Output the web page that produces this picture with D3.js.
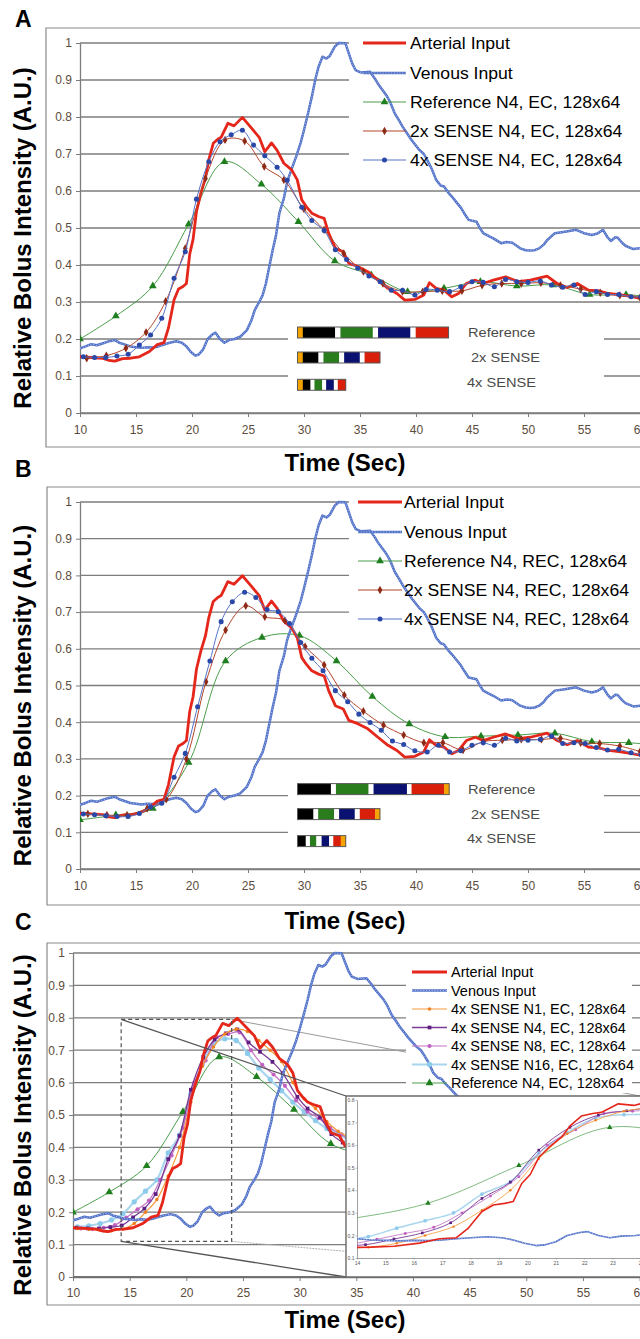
<!DOCTYPE html>
<html><head><meta charset="utf-8">
<script src="https://cdn.jsdelivr.net/npm/d3@7"></script>
<style>body{margin:0;background:#fff}svg{display:block}</style>
</head><body>
<svg id="c" width="640" height="1339"></svg>
<script>
// ---------------- DATA ----------------
const xTickVals = [10,15,20,25,30,35,40,45,50,55,60];
const xTickLabels = ['10','15','20','25','30','35','40','45','50','55','60'];
const yTickVals = [0,0.1,0.2,0.3,0.4,0.5,0.6,0.7,0.8,0.9,1];
const yTickLabels = ['0','0.1','0.2','0.3','0.4','0.5','0.6','0.7','0.8','0.9','1'];
const insetXTicks = [14,15,16,17,18,19,20,21,22,23,24];
const insetYTicks = [0.1,0.2,0.3,0.4,0.5,0.6,0.7,0.8];
const insetYLabels = ['0.1','0.2','0.3','0.4','0.5','0.6','0.7','0.8'];

const legendA = ['Arterial Input','Venous Input','Reference N4, EC, 128x64','2x SENSE N4, EC, 128x64','4x SENSE N4, EC, 128x64'];
const legendB = ['Arterial Input','Venous Input','Reference N4, REC, 128x64','2x SENSE N4, REC, 128x64','4x SENSE N4, REC, 128x64'];
const legendC = ['Arterial Input','Venous Input','4x SENSE N1, EC, 128x64','4x SENSE N4, EC, 128x64','4x SENSE N8, EC, 128x64','4x SENSE N16, EC, 128x64','Reference N4, EC, 128x64'];
const seqLabels = ['Reference','2x SENSE','4x SENSE'];

// [time (s), relative intensity]
const arterial = [[10,0.152],[11,0.15],[12,0.148],[12.6,0.142],[13.1,0.14],[13.8,0.147],[14.5,0.148],[15.3,0.152],[16.2,0.166],[16.9,0.185],[17.5,0.19],[17.9,0.23],[18.4,0.306],[18.8,0.335],[19.2,0.342],[19.5,0.35],[19.8,0.43],[20.1,0.47],[20.4,0.545],[20.8,0.595],[21.2,0.635],[21.5,0.685],[21.9,0.729],[22.3,0.74],[22.6,0.745],[23.2,0.783],[23.75,0.776],[24.5,0.799],[25.2,0.774],[26.0,0.745],[26.5,0.706],[27.1,0.73],[27.6,0.71],[28.2,0.675],[28.9,0.657],[29.4,0.63],[29.8,0.576],[30.2,0.558],[30.7,0.54],[31.3,0.531],[31.8,0.526],[32.2,0.486],[32.8,0.445],[33.5,0.436],[34.0,0.405],[34.8,0.396],[35.7,0.382],[36.6,0.359],[37.5,0.337],[38.3,0.323],[39.0,0.305],[39.9,0.307],[40.7,0.319],[41.2,0.352],[41.8,0.337],[42.5,0.332],[43.2,0.314],[43.8,0.323],[44.5,0.35],[45.3,0.359],[46.0,0.35],[46.9,0.359],[48.0,0.368],[49.1,0.355],[50.2,0.359],[51.7,0.37],[52.6,0.35],[53.5,0.339],[54.4,0.35],[55.4,0.332],[56.3,0.33],[57.2,0.323],[58.3,0.319],[59.4,0.314],[60,0.31]];

const venous = [[10,0.175],[10.5,0.18],[11,0.186],[11.5,0.183],[12,0.188],[12.5,0.193],[13.1,0.197],[13.5,0.19],[13.9,0.186],[14.5,0.18],[15,0.178],[15.5,0.176],[16,0.178],[16.5,0.177],[17,0.18],[17.5,0.185],[18,0.19],[18.6,0.194],[19.1,0.19],[19.5,0.18],[19.9,0.165],[20.3,0.155],[20.6,0.158],[21,0.172],[21.4,0.2],[21.8,0.212],[22.1,0.217],[22.5,0.2],[22.9,0.19],[23.3,0.197],[23.8,0.2],[24.3,0.206],[24.9,0.224],[25.3,0.25],[25.6,0.278],[26,0.3],[26.3,0.318],[26.6,0.35],[26.9,0.395],[27.2,0.44],[27.5,0.48],[27.8,0.54],[28.2,0.58],[28.5,0.625],[28.9,0.66],[29.3,0.693],[29.7,0.73],[30,0.765],[30.4,0.815],[30.7,0.855],[31,0.9],[31.3,0.936],[31.65,0.963],[32.0,0.958],[32.3,0.965],[32.75,0.99],[33.1,1.0],[33.7,0.999],[34.0,0.972],[34.3,0.945],[34.6,0.927],[35.1,0.92],[35.9,0.922],[36.3,0.905],[36.6,0.89],[37.35,0.859],[37.7,0.84],[38.1,0.81],[38.5,0.79],[38.8,0.774],[39.2,0.756],[39.6,0.738],[40.3,0.711],[40.7,0.70],[41.0,0.684],[41.4,0.66],[41.8,0.63],[42.2,0.615],[42.5,0.612],[42.9,0.595],[43.2,0.585],[43.6,0.57],[44.0,0.555],[44.3,0.54],[44.7,0.522],[45.4,0.517],[45.7,0.50],[46.0,0.486],[46.5,0.478],[46.9,0.472],[47.6,0.459],[48.1,0.462],[48.6,0.46],[49.3,0.445],[49.8,0.44],[50.2,0.439],[50.6,0.44],[51.0,0.445],[51.4,0.455],[51.7,0.467],[52.4,0.486],[53.3,0.49],[54.3,0.495],[55.0,0.486],[55.7,0.481],[56.2,0.485],[56.7,0.495],[57.1,0.475],[57.4,0.465],[57.8,0.475],[58.0,0.474],[58.4,0.46],[58.7,0.452],[59.4,0.443],[60,0.445]];

// Panel A (EC)
const refEC = [[10,0.2],[13.2,0.262],[16.5,0.343],[19.7,0.51],[22.9,0.679],[26.2,0.618],[29.5,0.517],[32.75,0.411],[36.0,0.373],[39.25,0.328],[42.5,0.337],[45.75,0.355],[49.0,0.343],[52.25,0.346],[55.5,0.32],[58.75,0.32],[62,0.31]];
const sense2xEC = [[10.6,0.148],[12.35,0.155],[14.1,0.175],[15.9,0.218],[17.65,0.302],[19.4,0.445],[21.2,0.634],[22.95,0.738],[24.7,0.735],[26.45,0.666],[28.2,0.63],[30.0,0.551],[31.8,0.495],[33.55,0.431],[35.3,0.382],[37.05,0.35],[38.8,0.328],[40.6,0.328],[42.35,0.33],[44.1,0.33],[45.9,0.345],[47.65,0.35],[49.4,0.35],[51.15,0.352],[52.9,0.345],[54.7,0.335],[56.45,0.325],[58.2,0.318],[60,0.312]];
const sense4xEC = [[10.3,0.152],[11.3,0.15],[12.3,0.15],[13.3,0.154],[14.3,0.159],[15.3,0.184],[16.3,0.211],[17.3,0.256],[18.4,0.364],[19.4,0.436],[20.4,0.578],[21.5,0.679],[22.5,0.733],[23.5,0.752],[24.5,0.764],[25.5,0.724],[26.5,0.695],[27.6,0.664],[28.5,0.629],[29.8,0.556],[30.7,0.52],[31.8,0.493],[32.8,0.441],[33.8,0.415],[34.8,0.391],[35.8,0.37],[36.8,0.355],[37.8,0.332],[38.8,0.332],[39.9,0.319],[40.9,0.334],[41.9,0.332],[43.0,0.328],[44.0,0.341],[45.0,0.355],[46.0,0.353],[47.0,0.341],[48.0,0.361],[49.0,0.355],[50.0,0.353],[51.1,0.357],[52.1,0.346],[53.1,0.34],[54.1,0.346],[55.1,0.32],[56.1,0.328],[57.1,0.32],[58.1,0.32],[59.2,0.314],[60.1,0.314]];

// Panel B (REC)
const refREC = [[10,0.134],[13.2,0.147],[16.5,0.165],[19.7,0.29],[23.0,0.567],[26.25,0.631],[29.6,0.636],[32.9,0.567],[36.1,0.47],[39.4,0.395],[42.6,0.36],[45.8,0.362],[49.1,0.365],[52.4,0.37],[55.7,0.347],[59.0,0.344],[62.3,0.335]];
const sense2xREC = [[10.7,0.15],[12.4,0.147],[14.2,0.147],[16.0,0.165],[17.7,0.19],[19.5,0.30],[21.25,0.51],[23.0,0.651],[24.8,0.717],[26.5,0.687],[28.3,0.677],[30.1,0.606],[31.8,0.556],[33.6,0.474],[35.3,0.43],[37.1,0.392],[38.9,0.365],[40.7,0.344],[42.4,0.344],[44.2,0.324],[46.0,0.347],[47.7,0.351],[49.4,0.353],[51.2,0.353],[52.9,0.356],[54.7,0.344],[56.4,0.342],[58.2,0.335],[60,0.32]];
const sense4xREC = [[10.3,0.15],[11.3,0.148],[12.3,0.145],[13.3,0.143],[14.3,0.143],[15.3,0.151],[16.3,0.169],[17.3,0.179],[18.4,0.25],[19.4,0.315],[20.5,0.442],[21.6,0.567],[22.6,0.674],[23.6,0.728],[24.7,0.754],[25.7,0.74],[26.7,0.707],[27.7,0.701],[28.7,0.669],[29.7,0.617],[30.7,0.574],[31.7,0.54],[32.8,0.486],[33.9,0.456],[34.9,0.422],[35.9,0.399],[36.9,0.378],[37.9,0.349],[38.9,0.339],[39.9,0.322],[41.0,0.319],[42.0,0.337],[43.0,0.319],[44.0,0.322],[45.0,0.337],[46.0,0.344],[47.0,0.337],[48.0,0.356],[49.0,0.349],[50.0,0.351],[51.1,0.353],[52.1,0.362],[53.1,0.342],[54.1,0.344],[55.1,0.342],[56.1,0.331],[57.1,0.324],[58.1,0.326],[59.2,0.317],[60.1,0.311]];

// Panel C (4x SENSE, EC, number of averages)
const sense4xN1 = [[10.4,0.15],[11.4,0.147],[12.4,0.145],[13.4,0.143],[14.4,0.148],[15.4,0.165],[16.4,0.2],[17.4,0.239],[18.4,0.312],[19.4,0.40],[20.4,0.54],[21.4,0.65],[22.4,0.71],[23.4,0.75],[24.4,0.765],[25.4,0.758],[26.4,0.73],[27.4,0.70],[28.4,0.665],[29.4,0.60],[30.4,0.55],[31.4,0.52],[32.4,0.48],[33.4,0.45],[34.4,0.43],[35.4,0.41],[36.4,0.39]];
const sense4xN8 = [[10.7,0.15],[11.7,0.148],[12.7,0.152],[13.7,0.16],[14.7,0.183],[15.7,0.209],[16.7,0.236],[17.7,0.30],[18.7,0.375],[19.7,0.46],[20.7,0.60],[21.7,0.668],[22.7,0.74],[23.7,0.75],[24.7,0.755],[25.7,0.70],[26.7,0.655],[27.7,0.625],[28.7,0.59],[29.7,0.545],[30.7,0.51],[31.7,0.49],[32.7,0.46],[33.7,0.44],[34.7,0.415],[35.7,0.40]];
const sense4xN16 = [[10.4,0.155],[11.4,0.158],[12.4,0.165],[13.4,0.176],[14.4,0.195],[15.4,0.232],[16.4,0.265],[17.4,0.30],[18.4,0.383],[19.4,0.438],[20.4,0.565],[21.4,0.655],[22.4,0.72],[23.4,0.735],[24.4,0.73],[25.4,0.69],[26.4,0.645],[27.4,0.61],[28.4,0.575],[29.4,0.54],[30.4,0.51],[31.4,0.483],[32.4,0.458],[33.4,0.442],[34.4,0.42],[35.4,0.40]];

// sequence diagram segments [colour key, relative duration]
const seqA = [
  [['o',1],['k',6.1],['w',1],['g',6.1],['w',1],['n',6.1],['w',1],['r',6.2]],
  [['o',1],['k',2.95],['w',0.95],['g',2.95],['w',0.95],['n',2.95],['w',0.9],['r',2.9]],
  [['o',1],['k',1.45],['w',0.75],['g',1.45],['w',0.75],['n',1.45],['w',0.75],['r',1.5]]
];
const seqB = [
  [['k',6.3],['w',0.95],['g',6.15],['w',0.95],['n',6.3],['w',0.87],['r',6.15],['o',0.95]],
  [['k',3.0],['w',0.9],['g',3.0],['w',0.95],['n',2.95],['w',0.95],['r',2.9],['o',0.9]],
  [['k',1.55],['w',0.8],['g',1.2],['w',1.0],['n',1.4],['w',0.8],['r',1.4],['o',0.95]]
];
const zoomBox = [14.25, 24, 0.11, 0.795];

// ---------------- STYLE ----------------
const FONT = '"Liberation Sans", Arial, Helvetica, sans-serif';
const segColor = {o:'#f5a300',k:'#000000',w:'#ffffff',g:'#2a7d1c',n:'#0b1170',r:'#d91e0a'};
const SYM = {triangle:d3.symbolTriangle, diamond:d3.symbolDiamond, circle:d3.symbolCircle, square:d3.symbolSquare};
const ST = {
  art:{color:'#e4261b', width:2.8},
  ven:{venous:true, width:2.5},
  ref:{color:'#4a9d4a', width:1, smooth:true, marker:'triangle', mcolor:'#1f7f1f', msize:26},
  s2:{color:'#b5452c', width:1, smooth:true, marker:'diamond', mcolor:'#8e2a16', msize:20},
  s4:{color:'#5573c9', width:1, smooth:true, marker:'circle', mcolor:'#2a48a8', msize:20},
  n1:{color:'#f79a3c', width:1.2, smooth:true, marker:'circle', mcolor:'#f08020', msize:10},
  n4:{color:'#7a3a96', width:1.3, smooth:true, marker:'square', mcolor:'#5e1f80', msize:14},
  n8:{color:'#c472c4', width:1.2, smooth:true, marker:'circle', mcolor:'#c060c0', msize:14},
  n16:{color:'#a9d6ee', width:2.2, smooth:true, marker:'circle', mcolor:'#8ccbec', msize:22}
};

const svg = d3.select('#c');

function drawSeries(g, data, st, x, y, k=1) {
  const line = d3.line().x(d=>x(d[0])).y(d=>y(d[1]));
  if (st.smooth) line.curve(d3.curveCatmullRom.alpha(0.5));
  if (st.venous) {
    g.append('path').attr('d', line(data)).attr('fill','none').attr('stroke','#5272c8')
      .attr('stroke-width', st.width*k).attr('stroke-linejoin','round');
    g.append('path').attr('d', line(data)).attr('fill','none').attr('stroke','#b8c7ee')
      .attr('stroke-width', 0.9*k).attr('stroke-dasharray', `${1.1*k},${1.7*k}`);
  } else {
    g.append('path').attr('d', line(data)).attr('fill','none').attr('stroke', st.color)
      .attr('stroke-width', st.width*k).attr('stroke-linejoin','round');
  }
  if (st.marker) {
    g.selectAll(null).data(data).join('path')
      .attr('transform', d=>`translate(${x(d[0])},${y(d[1])})`)
      .attr('d', d3.symbol().type(SYM[st.marker]).size(st.msize*k*k))
      .attr('fill', st.mcolor);
  }
}

function sample(g, st, x0, x1, yy) {
  const xs = d3.scaleLinear().domain([0,1]).range([x0,x1]);
  const ys = ()=>yy;
  drawSeries(g, [[0,0],[1,0]], Object.assign({}, st, {smooth:false, marker:null}), xs, ys);
  if (st.marker) {
    g.append('path').attr('transform', `translate(${(x0+x1)/2},${yy})`)
      .attr('d', d3.symbol().type(SYM[st.marker]).size(st.msize)).attr('fill', st.mcolor);
  }
}

function stretch(sel, f) {
  sel.each(function(){ const w=this.getComputedTextLength(); this.setAttribute('textLength', w*f); this.setAttribute('lengthAdjust','spacingAndGlyphs'); });
}

function drawFrame(g, fx, fy0, fy1) {
  g.append('path').attr('d', `M645,${fy0}H${fx}V${fy1}H645`).attr('fill','none').attr('stroke','#8a8a8a').attr('stroke-width',1.2);
}

function drawGrid(g, x, y) {
  g.selectAll(null).data(yTickVals).join('line')
    .attr('x1', x(10)).attr('x2', 640).attr('y1', d=>y(d)).attr('y2', d=>y(d))
    .attr('stroke','#7d7d7d').attr('stroke-width',1.3);
}

function drawAxes(g, x, y, py0, xpad) {
  const ya = g.append('g').attr('transform', `translate(${x(10)},0)`)
    .call(d3.axisLeft(y).tickValues(yTickVals).tickFormat((d,i)=>yTickLabels[i]).tickSize(4).tickSizeOuter(0).tickPadding(4));
  ya.select('.domain').attr('stroke','#7d7d7d').attr('stroke-width',1.3);
  ya.selectAll('.tick line').attr('stroke','#7d7d7d');
  ya.selectAll('.tick text').attr('fill','#5c4c3c').attr('font-size',12).attr('font-family',FONT);
  const xa = g.append('g').attr('transform', `translate(0,${py0})`)
    .call(d3.axisBottom(x).tickValues(xTickVals).tickFormat((d,i)=>xTickLabels[i]).tickSize(4).tickSizeOuter(0).tickPadding(xpad));
  xa.select('.domain').attr('stroke','#7d7d7d').attr('stroke-width',1.3);
  xa.selectAll('.tick line').attr('stroke','#7d7d7d');
  xa.selectAll('.tick text').attr('fill','#5c4c3c').attr('font-size',12).attr('font-family',FONT);
}

function titles(g, label, lx, ly, xcx, xby, ycy) {
  g.append('text').attr('x', lx).attr('y', ly).text(label).attr('font-family',FONT).attr('font-weight','bold').attr('font-size',23).attr('fill','#000');
  g.append('text').attr('x', xcx).attr('y', xby).attr('text-anchor','middle').text('Time (Sec)').attr('font-family',FONT).attr('font-weight','bold').attr('font-size',24).attr('fill','#000');
  g.append('text').attr('transform', `translate(31,${ycy}) rotate(-90)`).attr('text-anchor','middle').text('Relative Bolus Intensity (A.U.)').attr('font-family',FONT).attr('font-weight','bold').attr('font-size',24).attr('fill','#000');
}

function seqDiagram(g, segs, x0, tops, labelX, labelBase) {
  const w = d3.scaleLinear().domain([0,1]).range([0,5.3]);
  segs.forEach((bar, i) => {
    let cx = x0;
    bar.forEach(s => {
      g.append('rect').attr('x', cx).attr('y', tops[i]).attr('width', w(s[1])+0.3).attr('height', 11).attr('fill', segColor[s[0]]);
      cx += w(s[1]);
    });
    g.append('rect').attr('x', x0).attr('y', tops[i]).attr('width', cx-x0).attr('height', 11).attr('fill','none').attr('stroke','#5a5a5a').attr('stroke-width',1);
    const t = g.append('text').attr('x', labelX[i]).attr('y', labelBase[i]).text(seqLabels[i]).attr('font-family',FONT).attr('font-size',13.5).attr('fill','#4a4a4a');
    stretch(t, 1.08);
  });
}

// ---------------- PANELS A & B ----------------
function panelAB(cfg) {
  const g = svg.append('g');
  const x = d3.scaleLinear().domain([10,60]).range([80,640]);
  const y = d3.scaleLinear().domain([0,1]).range([cfg.py0, cfg.py1]);
  drawFrame(g, cfg.fx, cfg.fy0, cfg.fy1);
  drawGrid(g, x, y);
  g.append('rect').attr('x',349).attr('y',cfg.fy0+2).attr('width',300).attr('height', y(0.65)-cfg.fy0-2).attr('fill','#fff');
  g.append('rect').attr('x',288).attr('y',y(0.26)).attr('width',316).attr('height', y(0.035)-y(0.26)).attr('fill','#fff');
  drawAxes(g, x, y, cfg.py0, 8.5);
  const cid = 'clip'+cfg.label;
  g.append('clipPath').attr('id',cid).append('rect').attr('x',80).attr('y',cfg.py1-8).attr('width',560).attr('height',cfg.py0-cfg.py1+12);
  const cg = g.append('g').attr('clip-path',`url(#${cid})`);
  drawSeries(cg, cfg.ref, ST.ref, x, y);
  drawSeries(cg, venous, ST.ven, x, y);
  drawSeries(cg, arterial, ST.art, x, y);
  drawSeries(cg, cfg.s2, ST.s2, x, y);
  drawSeries(cg, cfg.s4, ST.s4, x, y);
  const styles = [ST.art, ST.ven, ST.ref, ST.s2, ST.s4];
  const offs = [0,30,59,88,117];
  offs.forEach((o,i)=>{
    const ry = y(1)+o;
    sample(g, styles[i], cfg.lx0, cfg.lx1, ry);
    const t = g.append('text').attr('x', cfg.tx).attr('y', ry+6).text(cfg.names[i]).attr('font-family',FONT).attr('font-size',16).attr('fill','#000');
    stretch(t, 1.1);
  });
  const y2 = y(0.2), y1 = y(0.1);
  seqDiagram(g, cfg.seq, 297.5, [y2-12, y2+13, y1+3.3], [468,471,467], [y2-2, y2+23, y1+11]);
  titles(g, cfg.label, 15, cfg.labelY, 345, cfg.fy1+24, (cfg.py0+cfg.py1)/2+10);
}

panelAB({label:'A', labelY:27, fx:46, fy0:28, fy1:447, py0:413, py1:43, ref:refEC, s2:sense2xEC, s4:sense4xEC,
  names:legendA, lx0:363, lx1:406, tx:410, seq:seqA});
panelAB({label:'B', labelY:477, fx:47, fy0:487, fy1:905, py0:869, py1:502, ref:refREC, s2:sense2xREC, s4:sense4xREC,
  names:legendB, lx0:358, lx1:402, tx:404, seq:seqB});

// ---------------- PANEL C ----------------
(function(){
  const g = svg.append('g');
  const x = d3.scaleLinear().domain([10,60]).range([73,639.6]);
  const y = d3.scaleLinear().domain([0,1]).range([1277,953]);
  drawFrame(g, 47, 943, 1305);
  drawGrid(g, x, y);
  const iL=346, iR=640, iT=1096, iB=1277;
  g.append('line').attr('x1',x(zoomBox[1])).attr('y1',y(zoomBox[3])).attr('x2',iR).attr('y2',iT).attr('stroke','#9a9a9a').attr('stroke-width',1);
  g.append('line').attr('x1',x(zoomBox[1])).attr('y1',y(zoomBox[2])).attr('x2',iR).attr('y2',iB).attr('stroke','#b0b0b0').attr('stroke-width',1).attr('stroke-dasharray','2,1');
  g.append('rect').attr('x',406).attr('y',956).attr('width',226).attr('height',137).attr('fill','#fff');
  drawAxes(g, x, y, 1277, 7);
  g.append('clipPath').attr('id','clipC').append('rect').attr('x',73).attr('y',945).attr('width',567).attr('height',340);
  const cg = g.append('g').attr('clip-path','url(#clipC)');
  drawSeries(cg, sense4xN16, ST.n16, x, y);
  drawSeries(cg, refEC, ST.ref, x, y);
  drawSeries(cg, sense4xN8, ST.n8, x, y);
  drawSeries(cg, sense4xEC, ST.n4, x, y);
  drawSeries(cg, sense4xN1, ST.n1, x, y);
  drawSeries(cg, venous, ST.ven, x, y);
  drawSeries(cg, arterial, ST.art, x, y);
  g.append('rect').attr('x',x(zoomBox[0])).attr('y',y(zoomBox[3])).attr('width',x(zoomBox[1])-x(zoomBox[0])).attr('height',y(zoomBox[2])-y(zoomBox[3]))
    .attr('fill','none').attr('stroke','#555').attr('stroke-width',1.2).attr('stroke-dasharray','4,3');
  g.append('line').attr('x1',x(zoomBox[0])).attr('y1',y(zoomBox[3])).attr('x2',iL).attr('y2',iT).attr('stroke','#555').attr('stroke-width',1.3);
  g.append('line').attr('x1',x(zoomBox[0])).attr('y1',y(zoomBox[2])).attr('x2',iL).attr('y2',iB).attr('stroke','#555').attr('stroke-width',1.3);
  g.append('rect').attr('x',iL).attr('y',iT).attr('width',300).attr('height',iB-iT).attr('fill','#fff');
  g.append('path').attr('d',`M645,${iT}H${iL}V${iB}`).attr('fill','none').attr('stroke','#6a6a6a').attr('stroke-width',1.4);
  const xi = d3.scaleLinear().domain([14,24]).range([357,641]);
  const yi = d3.scaleLinear().domain([0.1,0.8]).range([1258,1100]);
  const ia = g.append('g').attr('transform','translate(357,0)')
    .call(d3.axisLeft(yi).tickValues(insetYTicks).tickFormat((d,i)=>insetYLabels[i]).tickSize(1.5).tickSizeOuter(0).tickPadding(1));
  const ib = g.append('g').attr('transform','translate(0,1258)')
    .call(d3.axisBottom(xi).tickValues(insetXTicks).tickFormat(d=>String(d)).tickSize(1.5).tickSizeOuter(0).tickPadding(1.5));
  [ia, ib].forEach(a=>{
    a.select('.domain').attr('stroke','#888').attr('stroke-width',0.8);
    a.selectAll('.tick line').attr('stroke','#888').attr('stroke-width',0.6);
    a.selectAll('.tick text').attr('fill','#555').attr('font-size',5).attr('font-family',FONT);
  });
  g.append('clipPath').attr('id','clipI').append('rect').attr('x',357).attr('y',1097).attr('width',283).attr('height',161);
  const ig = g.append('g').attr('clip-path','url(#clipI)');
  const k = 0.7;
  drawSeries(ig, sense4xN16, ST.n16, xi, yi, k);
  drawSeries(ig, refEC, ST.ref, xi, yi, k);
  drawSeries(ig, sense4xN8, ST.n8, xi, yi, k);
  drawSeries(ig, sense4xEC, ST.n4, xi, yi, k);
  drawSeries(ig, sense4xN1, ST.n1, xi, yi, k);
  drawSeries(ig, venous, {venous:true, width:1.6}, xi, yi, 1);
  drawSeries(ig, arterial, {color:'#e4261b', width:1.6}, xi, yi, 1);
  g.append('line').attr('x1',73).attr('x2',640).attr('y1',1277).attr('y2',1277).attr('stroke','#6a6a6a').attr('stroke-width',1.4);
  const styles = [ST.art, ST.ven, ST.n1, ST.n4, ST.n8, ST.n16, ST.ref];
  legendC.forEach((name,i)=>{
    const ry = 972 + i*18.5;
    sample(g, styles[i], 412, 447, ry);
    g.append('text').attr('x',451).attr('y',ry+5).text(name).attr('font-family',FONT).attr('font-size',14.5).attr('fill','#000');
  });
  titles(g, 'C', 15, 930, 345, 1328, 1125);
})();
</script>
</body></html>
